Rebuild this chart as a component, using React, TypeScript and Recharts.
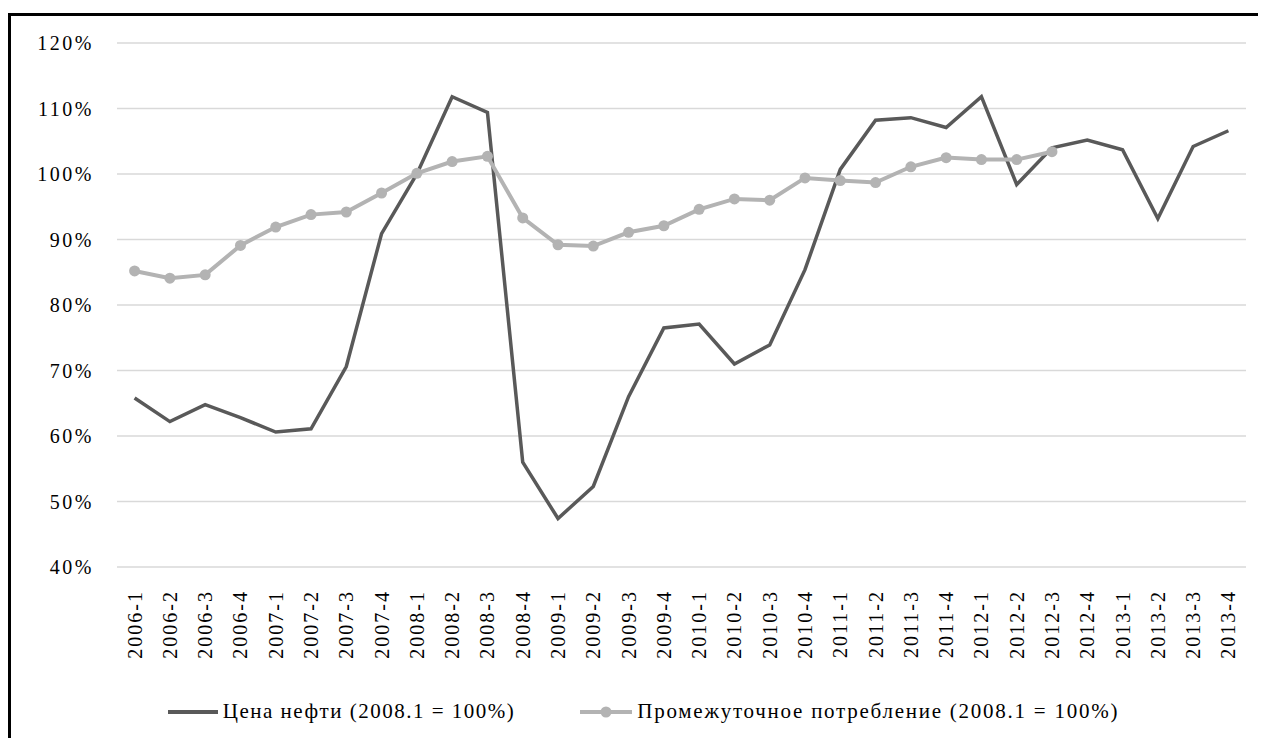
import React from 'react';
import { LineChart, Line, XAxis, YAxis, CartesianGrid, Legend } from 'recharts';

const quarters = [
  '2006-1', '2006-2', '2006-3', '2006-4',
  '2007-1', '2007-2', '2007-3', '2007-4',
  '2008-1', '2008-2', '2008-3', '2008-4',
  '2009-1', '2009-2', '2009-3', '2009-4',
  '2010-1', '2010-2', '2010-3', '2010-4',
  '2011-1', '2011-2', '2011-3', '2011-4',
  '2012-1', '2012-2', '2012-3', '2012-4',
  '2013-1', '2013-2', '2013-3', '2013-4',
];

const oilPrice = [
  65.8, 62.2, 64.8, 62.8,
  60.6, 61.1, 70.6, 90.9,
  100.0, 111.8, 109.4, 56.0,
  47.4, 52.3, 66.0, 76.5,
  77.1, 71.0, 73.9, 85.4,
  100.7, 108.2, 108.6, 107.1,
  111.8, 98.4, 104.0, 105.2,
  103.7, 93.2, 104.2, 106.6,
];

// intermediate consumption, series stops at 2012-3
const consumption = [
  85.2, 84.1, 84.6, 89.1,
  91.9, 93.8, 94.2, 97.1,
  100.1, 101.9, 102.7, 93.3,
  89.2, 89.0, 91.1, 92.1,
  94.6, 96.2, 96.0, 99.4,
  99.0, 98.7, 101.1, 102.5,
  102.2, 102.2, 103.4,
];

const yTicks = [40, 50, 60, 70, 80, 90, 100, 110, 120];

const oilLabel = 'Цена нефти (2008.1 = 100%)';
const consLabel = 'Промежуточное потребление (2008.1 = 100%)';

const data = quarters.map((q, i) => ({
  q,
  oil: oilPrice[i],
  cons: i < consumption.length ? consumption[i] : null,
}));

const DARK = '#595959';
const LIGHT = '#b3b3b3';
const FONT = '"Liberation Serif", "Times New Roman", serif';

const QuarterTick = (props: any) => {
  const { x, y, payload } = props;
  return (
    <text
      x={x}
      y={y}
      dy="0.35em"
      transform={`rotate(-90, ${x}, ${y})`}
      textAnchor="end"
      fontFamily={FONT}
      fontSize={20}
      letterSpacing={2}
      fill="#000"
    >
      {payload.value}
    </text>
  );
};

const LegendBox = () => (
  <div
    style={{
      display: 'flex',
      justifyContent: 'center',
      alignItems: 'center',
      paddingTop: 22,
      paddingLeft: 30,
      fontFamily: FONT,
      fontSize: 21,
      color: '#000',
    }}
  >
    <svg width={50} height={12} style={{ marginRight: 5 }}>
      <line x1={0} y1={6} x2={50} y2={6} stroke={DARK} strokeWidth={4} />
    </svg>
    <span style={{ letterSpacing: 1.5 }}>{oilLabel}</span>
    <svg width={52} height={12} style={{ marginLeft: 65, marginRight: 5 }}>
      <line x1={0} y1={6} x2={52} y2={6} stroke={LIGHT} strokeWidth={4} />
      <circle cx={26} cy={6} r={5.5} fill={LIGHT} />
    </svg>
    <span style={{ letterSpacing: 1.75 }}>{consLabel}</span>
  </div>
);

export default function App() {
  return (
    <div
      style={{
        marginTop: 5,
        width: 1255,
        height: 725,
        borderTop: '3px solid #000',
        borderLeft: '3px solid #000',
        boxSizing: 'border-box',
        background: '#fff',
      }}
    >
      <LineChart
        width={1252}
        height={722}
        data={data}
        margin={{ top: 27, right: 17, left: 0, bottom: 0 }}
      >
        <CartesianGrid vertical={false} stroke="#d9d9d9" strokeWidth={1.5} />
        <XAxis
          dataKey="q"
          interval={0}
          height={110}
          padding={{ left: 17.6, right: 17.6 }}
          axisLine={false}
          tickLine={false}
          tickSize={0}
          tickMargin={23}
          tick={<QuarterTick />}
        />
        <YAxis
          width={106}
          domain={[40, 120]}
          ticks={yTicks}
          axisLine={false}
          tickLine={false}
          tickSize={0}
          tickMargin={23}
          tickFormatter={(v: number) => `${v}%`}
          tick={{ fontFamily: FONT, fontSize: 20, fill: '#000', letterSpacing: 2.5 }}
        />
        <Legend verticalAlign="bottom" height={61} content={<LegendBox />} />
        <Line
          dataKey="oil"
          name={oilLabel}
          stroke={DARK}
          strokeWidth={3.5}
          dot={false}
          isAnimationActive={false}
        />
        <Line
          dataKey="cons"
          name={consLabel}
          stroke={LIGHT}
          strokeWidth={4}
          dot={{ r: 5.5, fill: LIGHT, stroke: 'none' }}
          activeDot={false}
          connectNulls={false}
          isAnimationActive={false}
        />
      </LineChart>
    </div>
  );
}
